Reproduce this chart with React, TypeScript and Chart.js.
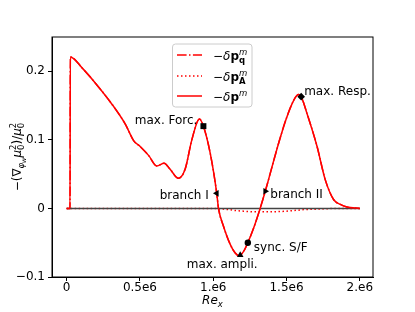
import { useEffect, useRef } from 'react';
import { Chart, registerables } from 'chart.js';

Chart.register(...registerables);

// Re_x in units of 1e6
const RE_X = [0, 0.023, 0.025, 0.105, 0.195, 0.309, 0.4, 0.458, 0.503, 0.56, 0.615, 0.665, 0.706, 0.762, 0.808, 0.854, 0.906, 0.933, 0.979, 1.024, 1.036, 1.07, 1.115, 1.15, 1.175, 1.206, 1.236, 1.275, 1.32, 1.355, 1.45, 1.5, 1.55, 1.582, 1.6, 1.639, 1.708, 1.764, 1.821, 1.867, 1.912, 2.0];
const DP_M = [0, 0, 0.221, 0.205, 0.183, 0.152, 0.123, 0.0985, 0.09, 0.077, 0.062, 0.066, 0.057, 0.044, 0.057, 0.1, 0.1305, 0.12, 0.081, 0.022, 0, -0.026, -0.052, -0.065, -0.069, -0.063, -0.05, -0.029, 0, 0.025, 0.098, 0.132, 0.158, 0.166, 0.163, 0.139, 0.0907, 0.042, 0.013, 0.0058, 0.002, 0];
const DP_Q = [0, 0, 0.221, 0.205, 0.183, 0.152, 0.123, 0.0985, 0.09, 0.077, 0.062, 0.066, 0.057, 0.044, 0.057, 0.1, 0.1305, 0.12, 0.081, 0.022, 0, -0.026, -0.052, -0.065, -0.069, -0.063, -0.05, -0.029, 0, 0.025, 0.098, 0.132, 0.158, 0.166, 0.163, 0.139, 0.0907, 0.042, 0.013, 0.0058, 0.002, 0];
const DP_A = [0, 0, 0, 0, 0, 0, 0, 0, 0, 0, 0, 0, 0, 0, 0, 0, 0, 0, 0, 0, -0.0005, -0.001, -0.002, -0.003, -0.0035, -0.004, -0.0045, -0.005, -0.005, -0.005, -0.0045, -0.004, -0.003, -0.0025, -0.002, -0.0015, -0.001, -0.0005, 0, 0, 0, 0];

const ZERO_X = [0, 2.0];
const ZERO_Y = [0, 0];

const MARK_LABELS = ['max. Forc.', 'branch I', 'max. ampli.', 'sync. S/F', 'branch II', 'max. Resp.'];
const MARK_X = [0.933, 1.024, 1.184, 1.236, 1.355, 1.6];
const MARK_Y = [0.12, 0.022, -0.068, -0.05, 0.025, 0.163];

const X_TICKS = [0, 0.5, 1, 1.5, 2];
const X_TICK_LABELS = ['0', '0.5e6', '1.e6', '1.5e6', '2.e6'];
const Y_TICKS = [-0.1, 0, 0.1, 0.2];
const Y_TICK_LABELS = ['\u22120.1', '0', '0.1', '0.2'];

// styles (kept separate from data)
const MARK_STYLE = ['rect', 'triangle', 'triangle', 'circle', 'triangle', 'rectRot'];
const MARK_ROT = [0, -90, 0, 0, 90, 0];
const MARK_RADIUS = [4.2, 3.8, 3.8, 3.2, 3.8, 3.8];
const LABEL_OFFSET: [number, number, CanvasTextAlign][] = [
  [-6, -5, 'right'],
  [-8, 3, 'right'],
  [-18, 10, 'center'],
  [6, 5, 'left'],
  [5, 4, 'left'],
  [3, -5, 'left'],
];

const FAM = '"DejaVu Sans"';
const F = (size: number, style = '') => `${style} ${size}px ${FAM}`.trim();

type Item = { t: string; f: string; dy?: number; keep?: boolean };

function richWidth(ctx: CanvasRenderingContext2D, items: Item[]) {
  let total = 0;
  let pending = 0;
  for (const it of items) {
    ctx.font = it.f;
    const w = ctx.measureText(it.t).width;
    if (it.keep) pending = Math.max(pending, w);
    else {
      total += Math.max(pending, w);
      pending = 0;
    }
  }
  return total + pending;
}

function drawRich(ctx: CanvasRenderingContext2D, items: Item[], x: number, y: number, align: 'left' | 'center') {
  const w = richWidth(ctx, items);
  let cx = align === 'center' ? x - w / 2 : x;
  let pending = 0;
  ctx.textAlign = 'left';
  ctx.textBaseline = 'alphabetic';
  for (const it of items) {
    ctx.font = it.f;
    const iw = ctx.measureText(it.t).width;
    ctx.fillText(it.t, cx, y + (it.dy || 0));
    if (it.keep) pending = Math.max(pending, iw);
    else {
      cx += Math.max(pending, iw);
      pending = 0;
    }
  }
}

const legendLabel = (sub: string | null): Item[] => {
  const base: Item[] = [
    { t: '\u2212', f: F(12) },
    { t: '\u03b4', f: F(12, 'italic') },
    { t: 'p', f: F(12, 'bold') },
  ];
  if (sub) {
    base.push({ t: 'm', f: F(8.5, 'italic'), dy: -5, keep: true });
    base.push({ t: sub, f: F(8.5, 'bold'), dy: 3 });
  } else {
    base.push({ t: 'm', f: F(8.5, 'italic'), dy: -5 });
  }
  return base;
};

const LEGEND_ITEMS = [
  { items: legendLabel('q'), dash: [9.6, 2.4, 1.5, 2.4] },
  { items: legendLabel('A'), dash: [1.5, 2.5] },
  { items: legendLabel(null), dash: [] as number[] },
];

const Y_TITLE: Item[] = [
  { t: '\u2212(\u2207', f: F(12) },
  { t: '\u03c6', f: F(8.5, 'italic'), dy: 3 },
  { t: 'w', f: F(6.5, 'italic'), dy: 5 },
  { t: '\u03bc', f: F(12, 'italic') },
  { t: '2', f: F(8.5), dy: -5, keep: true },
  { t: '0', f: F(8.5), dy: 3 },
  { t: ')/', f: F(12) },
  { t: '\u03bc', f: F(12, 'italic') },
  { t: '2', f: F(8.5), dy: -5, keep: true },
  { t: '0', f: F(8.5), dy: 3 },
];

const X_TITLE: Item[] = [
  { t: 'Re', f: F(12, 'italic') },
  { t: 'x', f: F(8.5, 'italic'), dy: 3 },
];

const decor = {
  id: 'decor',
  afterDatasetsDraw(chart: any) {
    const ctx: CanvasRenderingContext2D = chart.ctx;
    const { left, right, top, bottom } = chart.chartArea;
    const xs = chart.scales.x;
    const ys = chart.scales.y;
    ctx.save();
    // spines
    ctx.strokeStyle = '#000';
    ctx.lineWidth = 1;
    ctx.strokeRect(left, top, right - left, bottom - top);

    // annotation labels
    ctx.fillStyle = '#000';
    ctx.font = F(12);
    ctx.textBaseline = 'middle';
    MARK_LABELS.forEach((lab, i) => {
      const px = xs.getPixelForValue(MARK_X[i]);
      const py = ys.getPixelForValue(MARK_Y[i]);
      const [dx, dy, al] = LABEL_OFFSET[i];
      ctx.textAlign = al;
      ctx.fillText(lab, px + dx, py + dy);
    });

    // legend
    const bx = 172.5, by = 44, bw = 79.5, bh = 63;
    ctx.beginPath();
    ctx.roundRect(bx, by, bw, bh, 3);
    ctx.fillStyle = 'rgba(255,255,255,0.8)';
    ctx.fill();
    ctx.strokeStyle = '#cccccc';
    ctx.lineWidth = 1;
    ctx.stroke();
    const rows = [55, 76, 96];
    LEGEND_ITEMS.forEach((it, i) => {
      ctx.strokeStyle = '#ff0000';
      ctx.lineWidth = 1.5;
      ctx.setLineDash(it.dash);
      ctx.beginPath();
      ctx.moveTo(177, rows[i]);
      ctx.lineTo(202, rows[i]);
      ctx.stroke();
      ctx.setLineDash([]);
      ctx.fillStyle = '#000';
      drawRich(ctx, it.items, 213, rows[i] + 4.5, 'left');
    });

    // axis titles
    ctx.fillStyle = '#000';
    drawRich(ctx, X_TITLE, (left + right) / 2, 304, 'center');
    ctx.save();
    ctx.translate(21, (top + bottom) / 2);
    ctx.rotate(-Math.PI / 2);
    drawRich(ctx, Y_TITLE, 0, 0, 'center');
    ctx.restore();
    ctx.restore();
  },
};

export default function App() {
  const ref = useRef<HTMLCanvasElement | null>(null);
  useEffect(() => {
    if (!ref.current) return;
    const line = (ys: number[]) => RE_X.map((x, i) => ({ x, y: ys[i] }));
    const chart = new Chart(ref.current, {
      type: 'line',
      data: {
        datasets: [
          {
            label: 'q',
            data: line(DP_Q),
            borderColor: '#ff0000',
            borderWidth: 1.5,
            borderDash: [9.6, 2.4, 1.5, 2.4],
            pointRadius: 0,
            cubicInterpolationMode: 'monotone',
            order: 4,
          },
          {
            label: 'A',
            data: line(DP_A),
            borderColor: '#ff0000',
            borderWidth: 1.5,
            borderDash: [1.5, 2.5],
            pointRadius: 0,
            cubicInterpolationMode: 'monotone',
            order: 3,
          },
          {
            label: 'zero',
            data: ZERO_X.map((x, i) => ({ x, y: ZERO_Y[i] })),
            borderColor: '#444444',
            borderWidth: 1.5,
            pointRadius: 0,
            order: 2,
          },
          {
            label: 'm',
            data: line(DP_M),
            borderColor: '#ff0000',
            borderWidth: 1.5,
            pointRadius: 0,
            cubicInterpolationMode: 'monotone',
            order: 1,
          },
          {
            label: 'marks',
            data: MARK_X.map((x, i) => ({ x, y: MARK_Y[i] })),
            showLine: false,
            pointStyle: MARK_STYLE as any,
            rotation: MARK_ROT,
            pointRadius: MARK_RADIUS,
            backgroundColor: '#000',
            borderColor: '#000',
            borderWidth: 0,
            order: 0,
          } as any,
        ],
      },
      options: {
        responsive: false,
        animation: false,
        devicePixelRatio: 1,
        layout: { padding: { top: 37, right: 42, left: 0, bottom: 0 } },
        plugins: { legend: { display: false }, tooltip: { enabled: false } },
        scales: {
          x: {
            type: 'linear',
            min: -0.1,
            max: 2.09,
            afterBuildTicks: (s: any) => {
              s.ticks = X_TICKS.map((v) => ({ value: v }));
            },
            afterFit: (s: any) => {
              s.height = 35;
            },
            ticks: {
              autoSkip: false,
              maxRotation: 0,
              padding: 0,
              color: '#000',
              font: { family: 'DejaVu Sans', size: 12 },
              callback: (_v: any, i: number) => X_TICK_LABELS[i],
            },
            grid: { drawOnChartArea: false, drawTicks: true, tickLength: 4, color: '#000' },
            border: { display: true, color: '#000', width: 1 },
          },
          y: {
            type: 'linear',
            min: -0.1,
            max: 0.25,
            afterBuildTicks: (s: any) => {
              s.ticks = Y_TICKS.map((v) => ({ value: v }));
            },
            afterFit: (s: any) => {
              s.width = 52;
            },
            ticks: {
              autoSkip: false,
              padding: 3,
              color: '#000',
              font: { family: 'DejaVu Sans', size: 12 },
              callback: (_v: any, i: number) => Y_TICK_LABELS[i],
            },
            grid: { drawOnChartArea: false, drawTicks: true, tickLength: 4, color: '#000' },
            border: { display: true, color: '#000', width: 1 },
          },
        },
      },
      plugins: [decor],
    });
    return () => chart.destroy();
  }, []);
  return (
    <div style={{ position: 'fixed', left: 0, top: 0, width: 415, height: 312, background: '#fff' }}>
      <canvas ref={ref} width={415} height={312} style={{ display: 'block', width: 415, height: 312 }} />
    </div>
  );
}
